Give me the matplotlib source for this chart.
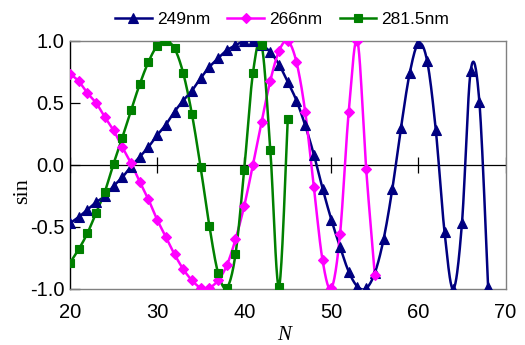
import numpy as np
import matplotlib
matplotlib.use("Agg")
import matplotlib.pyplot as plt

plt.rcParams['axes.unicode_minus'] = False
plt.rcParams['font.family'] = ['Liberation Sans', 'DejaVu Sans']

# ---- data ----
n_249 = list(range(20, 69))
v_249 = [-0.47, -0.42, -0.36, -0.30, -0.25, -0.17, -0.10, -0.013, 0.065, 0.145,
         0.24, 0.325, 0.43, 0.52, 0.60, 0.70, 0.79, 0.86, 0.925, 0.965,
         1.0, 1.0, 0.97, 0.91, 0.81, 0.67, 0.52, 0.32, 0.083, -0.19,
         -0.44, -0.66, -0.86, -0.98, -0.995, -0.87, -0.60, -0.196, 0.30, 0.74,
         0.98, 0.84, 0.28, -0.54, -1.0, -0.47, 0.76, 0.51, -0.98]

n_266 = list(range(20, 56))
v_266 = [0.736, 0.675, 0.58, 0.50, 0.387, 0.28, 0.145, 0.016, -0.134, -0.277,
         -0.44, -0.58, -0.72, -0.84, -0.93, -0.99, -0.99, -0.93, -0.81, -0.60,
         -0.33, 0.0, 0.35, 0.68, 0.92, 1.0, 0.83, 0.43, -0.18, -0.77,
         -0.995, -0.56, 0.43, 1.0, -0.03, -0.89]

n_2815 = list(range(20, 46))
v_2815 = [-0.79, -0.68, -0.55, -0.385, -0.215, 0.01, 0.22, 0.44, 0.65, 0.83,
          0.96, 1.0, 0.94, 0.74, 0.41, -0.02, -0.49, -0.87, -0.99, -0.72,
          -0.04, 0.74, 0.97, 0.12, -0.98, 0.37]

labels = ['249nm', '266nm', '281.5nm']
x_ticks = [20, 30, 40, 50, 60, 70]
y_ticks = [-1.0, -0.5, 0.0, 0.5, 1.0]


def smooth(x, y, steps=20):
    """Catmull-Rom style Bezier smoothing (as in spreadsheet 'smoothed line')."""
    p = np.column_stack([x, y]).astype(float)
    p_ext = np.vstack([p[0], p, p[-1]])
    out = []
    t = np.linspace(0, 1, steps, endpoint=False)[:, None]
    for i in range(len(p) - 1):
        p0, p1, p2, p3 = p_ext[i], p_ext[i + 1], p_ext[i + 2], p_ext[i + 3]
        c1 = p1 + (p2 - p0) / 6.0
        c2 = p2 - (p3 - p1) / 6.0
        seg = ((1 - t) ** 3) * p1 + 3 * ((1 - t) ** 2) * t * c1 + 3 * (1 - t) * t ** 2 * c2 + t ** 3 * p2
        out.append(seg)
    out.append(p[-1][None, :])
    out = np.vstack(out)
    return out[:, 0], out[:, 1]


fig = plt.figure(figsize=(5.25, 3.45), dpi=100)
ax = fig.add_axes([70 / 525, 1 - 289 / 345, 435.5 / 525, 248 / 345])

series = [
    (n_249, v_249, '#000080', '^', 7.0),
    (n_266, v_266, '#FF00FF', 'D', 4.8),
    (n_2815, v_2815, '#008000', 's', 6.0),
]
handles = []
for (xs, ys, col, mk, ms), lab in zip(series, labels):
    sx, sy = smooth(xs, ys)
    ax.plot(sx, sy, color=col, lw=1.8, zorder=3)
    ax.plot(xs, ys, ls='none', marker=mk, ms=ms, color=col, mec=col, mew=0.8, zorder=4)
    h, = ax.plot([], [], color=col, lw=1.8, marker=mk, ms=ms, mec=col, mew=0.8)
    handles.append(h)

# zero line with crossing ticks
ax.axhline(0, color='black', lw=0.9, zorder=2)
ax.plot(x_ticks, np.zeros(len(x_ticks)), ls='none', marker='|', ms=11, mew=0.9,
        color='black', zorder=2)

ax.set_xlim(20, 70)
ax.set_ylim(-1.0, 1.0)
ax.set_xticks(x_ticks)
ax.set_yticks(y_ticks)
ax.set_yticklabels([f'{v:.1f}' for v in y_ticks])
ax.tick_params(axis='x', length=0, pad=10, labelsize=14.5)
ax.tick_params(axis='y', direction='in', length=7, width=0.9, pad=4, labelsize=14.5)

for s in ['top', 'right', 'bottom']:
    ax.spines[s].set_color('#808080')
    ax.spines[s].set_linewidth(1.0)
ax.spines['left'].set_color('black')
ax.spines['left'].set_linewidth(1.0)

ax.text(-0.109, 0.395, 'sin', transform=ax.transAxes, rotation=90,
        ha='center', va='center', fontsize=16, family=['Liberation Serif', 'DejaVu Serif'])
ax.text(0.492, -0.188, 'N', transform=ax.transAxes, ha='center', va='center',
        fontsize=15, style='italic', family=['Liberation Serif', 'DejaVu Serif'])

ax.legend(handles, labels, loc='center', bbox_to_anchor=(0.487, 1.085), ncol=3,
          frameon=False, fontsize=12.5, handlelength=2.1, handletextpad=0.3,
          columnspacing=1.0, borderaxespad=0)

fig.savefig('out.png', dpi=100)
